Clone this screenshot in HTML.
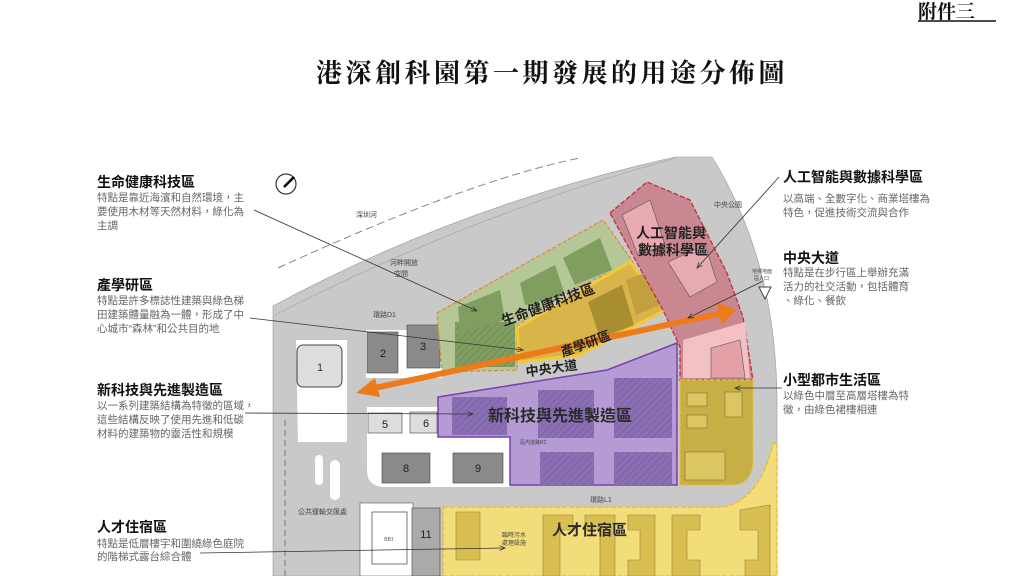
<!DOCTYPE html>
<html><head><meta charset="utf-8"><style>
body{margin:0;width:1024px;height:576px;background:#fff;overflow:hidden;font-family:"Liberation Sans","Noto Sans CJK TC",sans-serif;}
svg{position:absolute;left:0;top:0}
</style></head><body>
<svg width="1024" height="576" viewBox="0 0 1024 576" font-family="Liberation Sans, Noto Sans CJK TC, sans-serif">
<defs>
<pattern id="h" width="5" height="5" patternUnits="userSpaceOnUse" patternTransform="rotate(45)"><line x1="0" y1="0" x2="0" y2="5" stroke="#000" stroke-opacity="0.15" stroke-width="1.5"/></pattern>
<marker id="ar" markerWidth="8" markerHeight="8" refX="7" refY="4" orient="auto"><path d="M0,1 L7,4 L0,7" fill="none" stroke="#333" stroke-width="1"/></marker>
</defs>
<!-- header -->
<text x="918" y="18" font-size="19" font-weight="bold" fill="#111" font-family="Liberation Serif, Noto Serif CJK SC, serif">附件三</text>
<line x1="918" y1="21" x2="996" y2="21" stroke="#111" stroke-width="1.5"/>
<text x="552" y="82" font-size="26" font-weight="bold" text-anchor="middle" fill="#111" font-family="Liberation Serif, Noto Serif CJK SC, serif" letter-spacing="3.5">港深創科園第一期發展的用途分佈圖</text>

<!-- site base gray -->
<path d="M273,306 Q460,205 675,157 L712,157 Q776,260 777,400 L777,576 L273,576 Z" fill="#c9c9c9" stroke="#999" stroke-width="0.6"/>
<path d="M278,268 Q470,180 580,158" fill="none" stroke="#888" stroke-dasharray="8,4"/>
<path d="M275,315 Q470,215 676,158" fill="none" stroke="#aaa" stroke-width="0.8"/>
<!-- white lots -->
<path d="M296,340 L347,340 L347,442 L298,442 Z" fill="#fff"/>
<rect x="366" y="330" width="76" height="48" fill="#fff"/>
<path d="M367,407 L510,407 L510,487 L385,487 Q367,487 367,470 Z" fill="#fff"/>
<rect x="360" y="503" width="53" height="73" fill="#fff" stroke="#555" stroke-width="0.6"/>
<rect x="372" y="512" width="35" height="52" fill="#fff" stroke="#555" stroke-width="0.8"/>
<text x="389" y="541" font-size="5" fill="#555" text-anchor="middle">BB1</text>
<rect x="330" y="460" width="10" height="40" rx="5" fill="#fff"/>
<rect x="315" y="455" width="8" height="30" rx="4" fill="#fff"/>
<line x1="285" y1="420" x2="285" y2="576" stroke="#777" stroke-dasharray="6,4"/>
<!-- buildings -->
<rect x="297" y="345" width="45" height="42" rx="6" fill="#ddd" stroke="#444"/>
<text x="320" y="371" font-size="11" text-anchor="middle" fill="#333">1</text>
<rect x="367" y="332" width="31" height="41" fill="#8a8a8a" stroke="#444" stroke-width="0.6"/><text x="383" y="357" font-size="11" text-anchor="middle" fill="#222">2</text>
<rect x="407" y="325" width="33" height="43" fill="#8a8a8a" stroke="#444" stroke-width="0.6"/><text x="423" y="350" font-size="11" text-anchor="middle" fill="#222">3</text>
<rect x="368" y="413" width="34" height="20" fill="#ddd" stroke="#444" stroke-width="0.6"/><text x="385" y="428" font-size="11" text-anchor="middle" fill="#222">5</text>
<rect x="410" y="412" width="27" height="21" fill="#ddd" stroke="#444" stroke-width="0.6"/><text x="426" y="427" font-size="11" text-anchor="middle" fill="#222">6</text>
<rect x="382" y="453" width="48" height="30" fill="#8a8a8a" stroke="#444" stroke-width="0.6"/><text x="406" y="472" font-size="11" text-anchor="middle" fill="#222">8</text>
<rect x="453" y="453" width="50" height="30" fill="#8a8a8a" stroke="#444" stroke-width="0.6"/><text x="478" y="472" font-size="11" text-anchor="middle" fill="#222">9</text>
<rect x="412" y="508" width="28" height="68" fill="#aaa" stroke="#444" stroke-width="0.6"/><text x="426" y="538" font-size="11" text-anchor="middle" fill="#222">11</text>

<!-- green zone -->
<path d="M437,313 L603,220 L633,262 L560,295 L517,326 L517,370 L442,372 Z" fill="#b5c796" stroke="#e08a2c" stroke-width="1.2" stroke-dasharray="4,2"/>
<rect x="455" y="322" width="60" height="45" fill="#7f9e60"/><rect x="455" y="322" width="60" height="45" fill="url(#h)"/>
<path d="M458,307 L500,290 L505,320 L460,333 Z" fill="#7f9e60"/>
<path d="M520,283 L555,265 L565,295 L525,305 Z" fill="#7f9e60"/>
<path d="M563,258 L600,238 L612,270 L575,285 Z" fill="#7f9e60"/>
<!-- yellow zone 產學研 -->
<path d="M517,328 L630,262 L665,310 L580,355 L520,362 Z" fill="#d8b44a" stroke="#f3c93a" stroke-width="3"/>
<path d="M588,302 L622,285 L634,325 L600,338 Z" fill="#a88e30"/>
<path d="M626,280 L652,270 L660,305 L636,315 Z" fill="#c2a040"/>
<!-- red zone -->
<path d="M610,213 L647,182 L690,200 L727,273 L743,317 L753,380 L680,380 L680,347 L663,310 L637,263 Z" fill="#c98891" stroke="#c0303a" stroke-width="1.3" stroke-dasharray="5,2"/>
<path d="M622,215 L650,200 L665,245 L638,255 Z" fill="#e6aab0" stroke="#555" stroke-width="0.6"/>
<path d="M668,262 L705,245 L717,282 L690,297 Z" fill="#e6aab0" stroke="#555" stroke-width="0.6"/>
<path d="M683,340 L745,322 L750,378 L683,378 Z" fill="#f2c0c5"/>
<path d="M711,348 L740,340 L745,378 L711,378 Z" fill="#e3a0a7" stroke="#555" stroke-width="0.6"/>
<!-- purple zone -->
<path d="M438,397 L607,370 L677,343 L677,485 L510,485 L510,437 L438,437 Z" fill="#b49bd4" stroke="#7a3fb0" stroke-width="1.5"/>
<g fill="#8b6fb5"><rect x="452" y="397" width="55" height="38"/><rect x="538" y="390" width="56" height="48"/><rect x="614" y="378" width="58" height="60"/><rect x="540" y="452" width="54" height="33"/><rect x="614" y="452" width="58" height="33"/></g>
<g fill="url(#h)"><rect x="452" y="397" width="55" height="38"/><rect x="538" y="390" width="56" height="48"/><rect x="614" y="378" width="58" height="60"/><rect x="540" y="452" width="54" height="33"/><rect x="614" y="452" width="58" height="33"/></g>
<text x="520" y="444" font-size="5" fill="#444">區內道路R2</text>
<!-- small city yellow -->
<path d="M680,380 L753,380 L753,460 Q753,485 730,485 L680,485 Z" fill="#c7ae45" stroke="#e9c235" stroke-width="1.3" stroke-dasharray="4,2"/>
<g fill="#dcc563" stroke="#8a7430" stroke-width="0.6"><rect x="687" y="393" width="20" height="13"/><rect x="725" y="392" width="17" height="25"/><rect x="687" y="415" width="20" height="13"/><rect x="685" y="452" width="40" height="28"/></g>
<!-- bottom yellow -->
<path d="M443,507 L723,507 Q760,500 773,443 L777,443 L777,576 L443,576 Z" fill="#f3dc7a" stroke="#e8bd2e" stroke-width="1.3" stroke-dasharray="5,2"/>
<g fill="#d9be52" stroke="#9a8436" stroke-width="0.6"><path d="M456,512 L480,512 L480,560 L456,560 Z"/><path d="M543,515 L573,515 L573,530 L560,530 L560,576 L543,576 Z"/><path d="M585,515 L615,515 L615,576 L600,576 L600,530 L585,530 Z"/><path d="M628,515 L655,515 L655,576 L628,576 L628,560 L640,560 L640,530 L628,530 Z"/><path d="M672,515 L700,515 L700,530 L687,530 L687,560 L700,560 L700,576 L672,576 Z"/><path d="M740,510 L770,505 L770,576 L745,576 L745,560 L758,560 L758,530 L740,530 Z"/></g>

<!-- orange arrow -->
<line x1="370" y1="389" x2="722" y2="313" stroke="#ee7a1a" stroke-width="6"/>
<polygon points="356,393 375,378 380,397" fill="#ee7a1a"/>
<polygon points="736,310 716,302 722,325" fill="#ee7a1a"/>

<!-- map labels -->
<g font-weight="bold" fill="#222">
<text x="497" y="312" font-size="14" transform="rotate(-20 540 300)">生命健康科技區</text>
<text x="557" y="348" font-size="13" transform="rotate(-20 585 336)">產學研區</text>
<text x="636" y="238" font-size="14">人工智能與</text>
<text x="638" y="255" font-size="14">數據科學區</text>
<text x="525" y="373" font-size="13" transform="rotate(-8 550 365)">中央大道</text>
<text x="488" y="421" font-size="16" fill="#2a2a2a">新科技與先進製造區</text>
<text x="552" y="535" font-size="15" fill="#2a2a2a">人才住宿區</text>
</g>
<g font-size="7" fill="#444">
<text x="356" y="217">深圳河</text>
<text x="390" y="265">河畔開放</text><text x="394" y="276">空間</text>
<text x="373" y="317">環路D1</text>
<text x="590" y="502">環路L1</text>
<text x="298" y="514">公共運輸交匯處</text>
<text x="502" y="537" font-size="6">臨時污水</text><text x="502" y="545" font-size="6">處理設施</text>
<text x="714" y="207">中央公園</text>
<text x="752" y="273" font-size="5">地標地面</text><text x="754" y="280" font-size="5">區入口</text>
</g>
<path d="M759,287 L771,287 L765,299 Z" fill="#fff" stroke="#444"/>
<!-- compass -->
<circle cx="286" cy="184" r="10" fill="#fff" stroke="#333" stroke-width="1.2"/>
<line x1="284" y1="187" x2="294" y2="177" stroke="#000" stroke-width="2.5"/>

<!-- leader lines -->
<g stroke="#333" stroke-width="0.8" fill="none">
<line x1="254" y1="210" x2="477" y2="311" marker-end="url(#ar)"/>
<line x1="250" y1="318" x2="523" y2="350" marker-end="url(#ar)"/>
<line x1="245" y1="413" x2="473" y2="414" marker-end="url(#ar)"/>
<line x1="200" y1="553" x2="505" y2="548" marker-end="url(#ar)"/>
<line x1="779" y1="177" x2="697" y2="268" marker-end="url(#ar)"/>
<line x1="763" y1="281" x2="688" y2="318" marker-end="url(#ar)"/>
<line x1="782" y1="388" x2="735" y2="388" marker-end="url(#ar)"/>
</g>

<!-- labels -->
<g fill="#111" font-weight="bold" font-size="14">
<text x="97" y="187">生命健康科技區</text>
<text x="97" y="290">產學研區</text>
<text x="97" y="395">新科技與先進製造區</text>
<text x="97" y="532">人才住宿區</text>
<text x="783" y="182">人工智能與數據科學區</text>
<text x="783" y="263">中央大道</text>
<text x="783" y="385">小型都市生活區</text>
</g>
<g fill="#666" font-size="10.5">
<text x="97" y="201">特點是靠近海濱和自然環境，主</text>
<text x="97" y="215">要使用木材等天然材料，綠化為</text>
<text x="97" y="229">主調</text>
<text x="97" y="304">特點是許多標誌性建築與綠色梯</text>
<text x="97" y="318">田建築體量融為一體，形成了中</text>
<text x="97" y="332">心城市“森林”和公共目的地</text>
<text x="97" y="409">以一系列建築結構為特徵的區域，</text>
<text x="97" y="423">這些結構反映了使用先進和低碳</text>
<text x="97" y="437">材料的建築物的靈活性和規模</text>
<text x="97" y="547">特點是低層樓宇和圍繞綠色庭院</text>
<text x="97" y="560">的階梯式露台綜合體</text>
<text x="783" y="202">以高端、全數字化、商業塔樓為</text>
<text x="783" y="216">特色，促進技術交流與合作</text>
<text x="783" y="276">特點是在步行區上舉辦充滿</text>
<text x="783" y="290">活力的社交活動，包括體育</text>
<text x="783" y="304">、綠化、餐飲</text>
<text x="783" y="399">以綠色中層至高層塔樓為特</text>
<text x="783" y="413">徵，由綠色裙樓相連</text>
</g>
</svg>
</body></html>
